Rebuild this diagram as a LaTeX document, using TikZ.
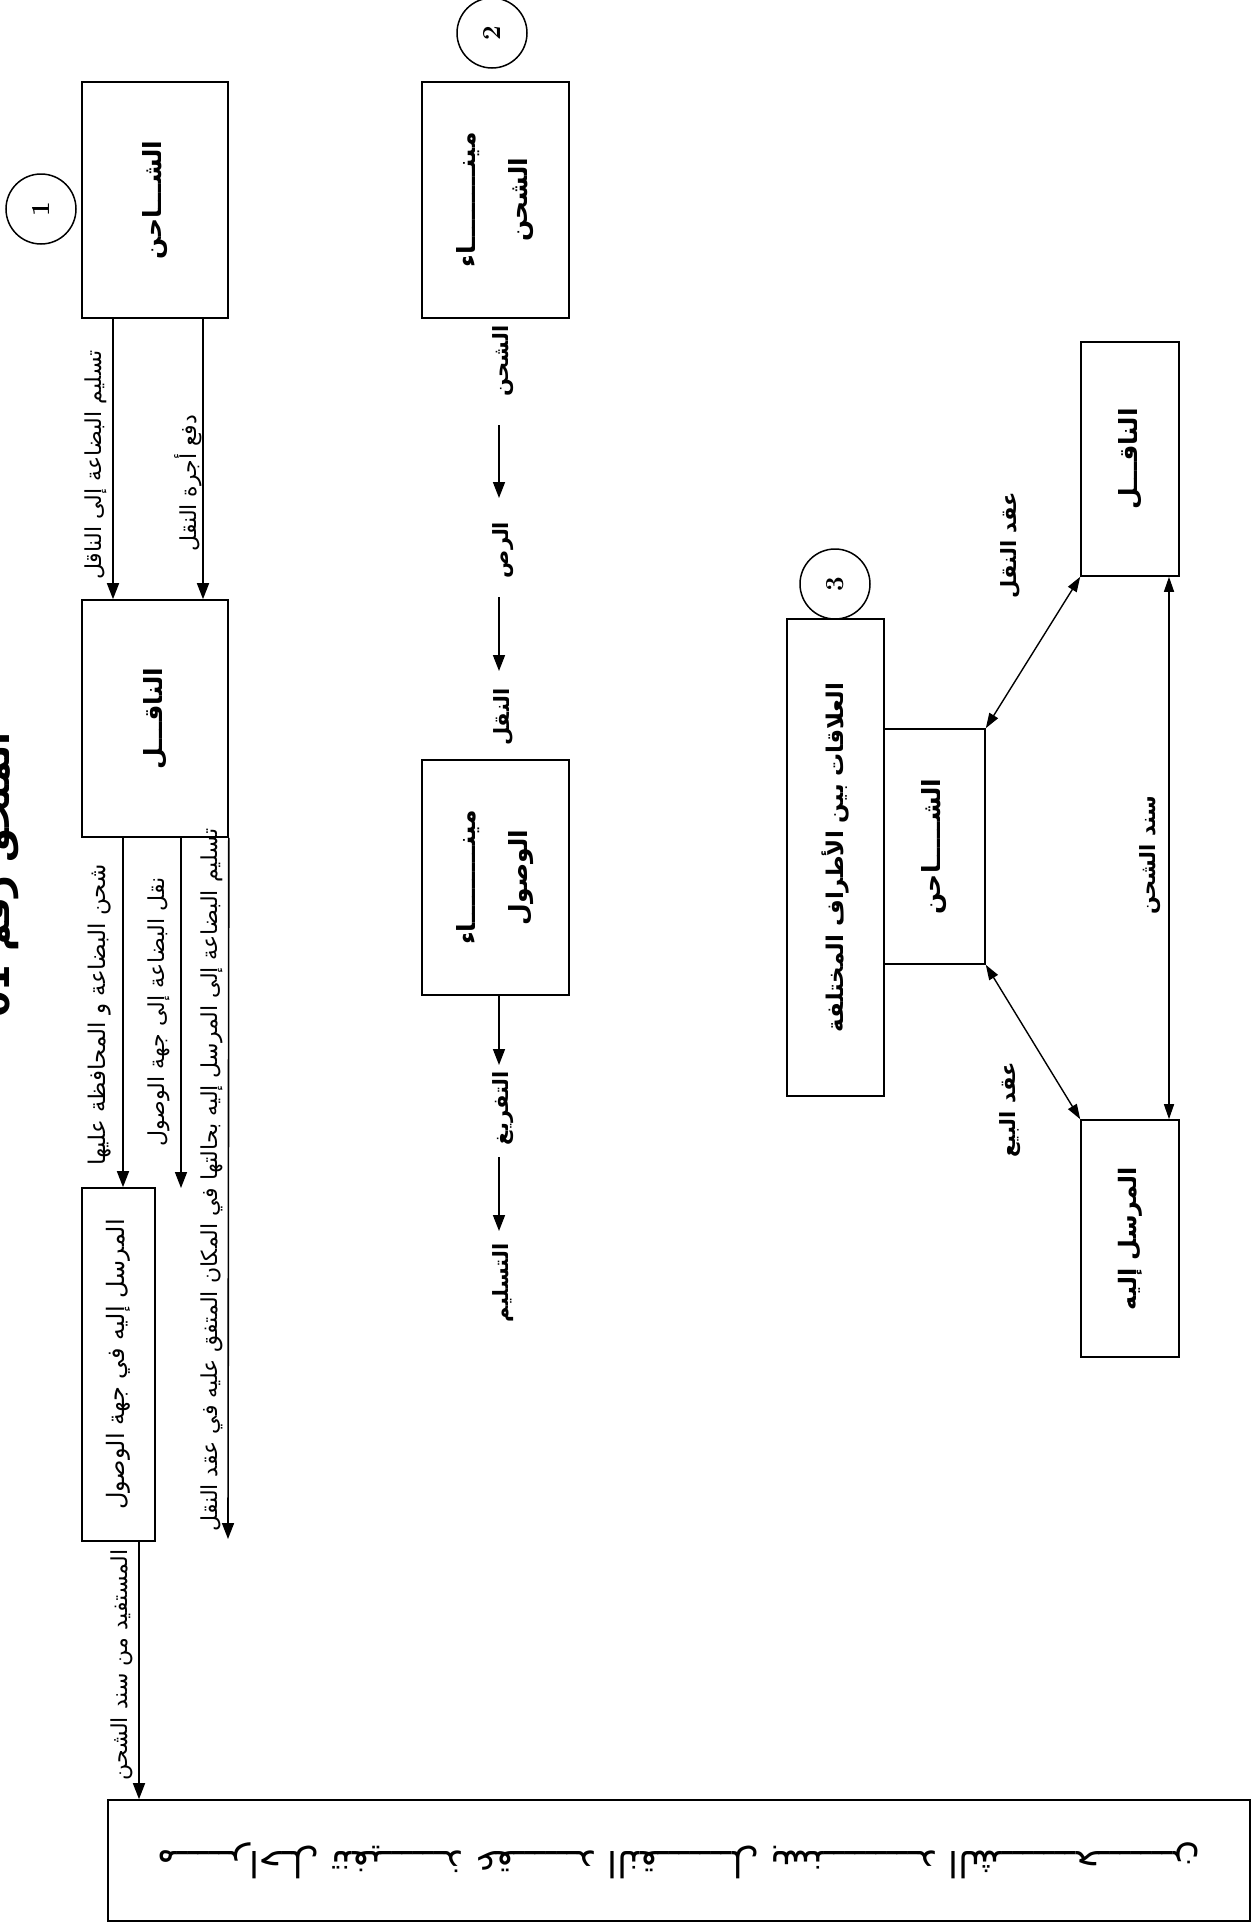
\documentclass[tikz,border=0pt]{standalone}
\usepackage{fontspec}
\usepackage{graphicx}
\usetikzlibrary{arrows.meta}
\TeXXeTstate=1
\newfontfamily\arabicfont[Script=Arabic]{DejaVu Sans}
\newcommand{\ar}[1]{\beginR #1\endR}
\newcommand{\rt}[1]{\rotatebox{90}{#1}}
\begin{document}
\begin{tikzpicture}[x=1pt,y=-1pt,
  box/.style={draw, line width=1.6pt, inner sep=0pt, font=\arabicfont\fontsize{25}{30}\selectfont\bfseries},
  arr/.style={-{Triangle[length=16pt,width=12pt]}, line width=1.6pt},
  darr/.style={{Triangle[length=15pt,width=10pt]}-{Triangle[length=15pt,width=10pt]}, line width=1.4pt},
  lbl/.style={rotate=90, inner sep=1pt, font=\arabicfont\fontsize{22}{26}\selectfont},
  blbl/.style={rotate=90, inner sep=1pt, font=\arabicfont\fontsize{21}{25}\selectfont\bfseries},
  circ/.style={draw, circle, minimum size=70pt, inner sep=0pt, line width=1.5pt, font=\fontsize{26}{30}\selectfont\bfseries}
]
\useasboundingbox (0,0) rectangle (1252,1930);
\fill[white] (0,0) rectangle (1252,1930);

% title (cut off at the left edge)
\node[rotate=90, inner sep=0pt, font=\arabicfont\fontsize{38}{42}\selectfont\bfseries] (title) at (0,875) {\ar{الملحق رقم \beginL 01\endL}};

% ---------- left column ----------
\node[circ] (c1) at (41,209) {\rt{1}};
\node[box, minimum width=146pt, minimum height=236pt] (b1) at (155,200) {\rt{\ar{الشـــاحن}}};
\node[box, minimum width=146pt, minimum height=237pt] (b2) at (155,718.5) {\rt{\ar{الناقـــل}}};
\node[box, minimum width=73pt, minimum height=353pt, font=\arabicfont\fontsize{24}{28}\selectfont] (b3) at (118.5,1364.5) {\rt{\ar{المرسل إليه في جهة الوصول}}};
\node[box, minimum width=1142pt, minimum height=121pt, font=\arabicfont\fontsize{36}{40}\selectfont] (big) at (679,1860.5)
  {\rotatebox{180}{\ar{مـــــراحـل تنفيــــــذ عقــــــد النقـــــــل بسنـــــــــد الشـــــــحـــــــن}}};

\draw[arr] ([xshift=-42pt]b1.south) -- ([xshift=-42pt]b2.north);
\draw[arr] ([xshift=48pt]b1.south) -- ([xshift=48pt]b2.north);
\node[lbl] (t1) at (96,465) {\ar{تسليم البضاعة إلى الناقل}};
\node[lbl] (t2) at (188,483) {\ar{دفع أجرة النقل}};

\coordinate (e2) at (181,1188);
\coordinate (e3) at (228,1539);
\draw[arr] ([xshift=-32pt]b2.south) -- ([xshift=-32pt]b2.south |- b3.north);
\draw[arr] ([xshift=26pt]b2.south) -- (e2);
\draw[arr] (b2.south east) -- (e3);
\node[lbl, font=\arabicfont\fontsize{23}{27}\selectfont] (t3) at (100,1015) {\ar{شحن البضاعة و المحافظة عليها}};
\node[lbl] (t4) at (159,1012) {\ar{نقل البضاعة إلى جهة الوصول}};
\node[lbl] (t5) at (212,1180) {\ar{تسليم البضاعة إلى المرسل إليه بحالتها في المكان المتفق عليه في عقد النقل}};

\draw[arr] ([xshift=20.5pt]b3.south) -- ([xshift=20.5pt]b3.south |- big.north);
\node[lbl] (t6) at (122,1665) {\ar{المستفيد من سند الشحن}};

% ---------- middle column ----------
\node[circ] (c2) at (492,33) {\rt{2}};
\node[box, minimum width=147pt, minimum height=236pt] (p1) at (495.5,200)
  {\rt{\begin{tabular}{@{}c@{}}\ar{مينـــــــــاء}\\[22pt]\ar{الشحن}\end{tabular}}};
\node[box, minimum width=147pt, minimum height=235pt] (p2) at (495.5,877.5)
  {\rt{\begin{tabular}{@{}c@{}}\ar{مينـــــــــاء}\\[22pt]\ar{الوصول}\end{tabular}}};

\node[blbl] (l1) at (503,361) {\ar{الشحن}};
\node[blbl] (l2) at (503,550) {\ar{الرص}};
\node[blbl] (l3) at (503,717) {\ar{النقل}};
\node[blbl] (l4) at (503,1108) {\ar{التفريغ}};
\node[blbl] (l5) at (503,1283) {\ar{التسليم}};
\coordinate (a1s) at (499,425);  \coordinate (a1e) at (499,498);
\coordinate (a2s) at (499,597);  \coordinate (a2e) at (499,671);
\coordinate (a4e) at (499,1065);
\coordinate (a5s) at (499,1157); \coordinate (a5e) at (499,1231);
\draw[arr] (a1s) -- (a1e);
\draw[arr] (a2s) -- (a2e);
\draw[arr] (p2.south -| a4e) -- (a4e);
\draw[arr] (a5s) -- (a5e);

% ---------- right part ----------
\node[circ] (c3) at (835,584) {\rt{3}};
\node[box, minimum width=97pt, minimum height=477pt, font=\arabicfont\fontsize{23}{27}\selectfont\bfseries] (rel) at (835.5,857.5) {\rt{\ar{العلاقات بين الأطراف المختلفة}}};
\node[box, minimum width=101pt, minimum height=235pt] (s) at (934.5,846.5) {\rt{\ar{الشـــــاحن}}};
\node[box, minimum width=98pt, minimum height=234pt] (c) at (1130,459) {\rt{\ar{الناقـــل}}};
\node[box, minimum width=98pt, minimum height=237pt, font=\arabicfont\fontsize{24}{28}\selectfont\bfseries] (r) at (1130,1238.5) {\rt{\ar{المرسل إليه}}};

\draw[darr] (s.north east) -- (c.south west);
\draw[darr] (s.south east) -- (r.north west);
\draw[darr] ([xshift=39pt]c.south) -- ([xshift=39pt]r.north);
\node[blbl] (k1) at (1010,545) {\ar{عقد النقل}};
\node[blbl] (k2) at (1010,1110) {\ar{عقد البيع}};
\node[blbl] (k3) at (1150,855) {\ar{سند الشحن}};
\end{tikzpicture}
\end{document}
